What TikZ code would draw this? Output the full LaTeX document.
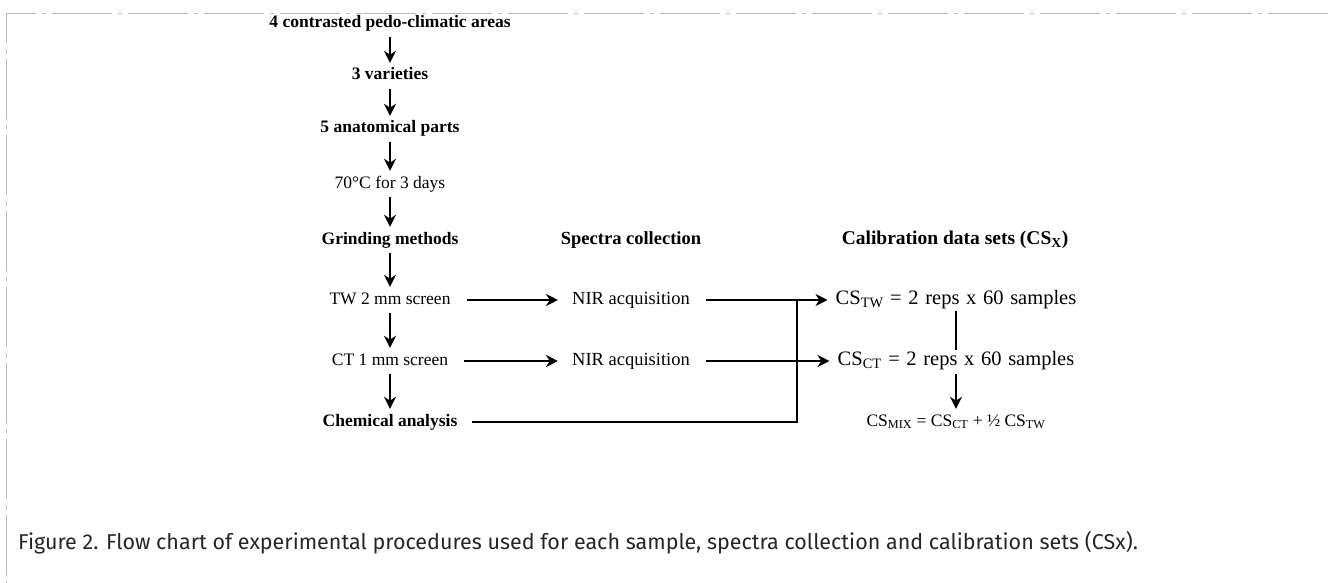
\documentclass[tikz,border=0pt]{standalone}
\usepackage{fontspec}
\setmainfont{Liberation Serif}
\newfontfamily\capfont{Fira Sans}
\newfontfamily\widefont[WordSpace=1.3]{Liberation Serif}
\usetikzlibrary{arrows.meta}

\begin{document}
\begin{tikzpicture}
  [x=1pt,y=-1pt,
   every node/.style={inner sep=0pt,text height=12pt,text depth=4pt,
     font=\fontsize{17.5}{20}\selectfont},
   hd/.style={font=\fontsize{17.5}{20}\selectfont\bfseries},
   mid/.style={font=\fontsize{18.5}{21}\selectfont},
   wide/.style={font=\widefont\fontsize{20.5}{23}\selectfont},
   link/.style={line width=2.8pt,-{Stealth[length=12pt,width=12pt]}},
   bar/.style={line width=2.8pt}]
  \useasboundingbox (0,0) rectangle (1328,583);
  \draw[gray!55,line width=0.8pt,dash pattern=on 60pt off 6pt on 4pt off 6pt]
    (1328,13) -- (6,13) -- (6,583);

  % sample preparation
  \node[hd] (n1) at (390,24)  {4 contrasted pedo-climatic areas};
  \node[hd] (n2) at (390,76)  {3 varieties};
  \node[hd] (n3) at (390,129) {5 anatomical parts};
  \node     (n4) at (390,184) {70°C for 3 days};
  \node[hd] (n5) at (390,240) {Grinding methods};
  \node     (n6) at (390,300) {TW 2 mm screen};
  \node     (n7) at (390,361) {CT 1 mm screen};
  \node[hd] (n8) at (390,422) {Chemical analysis};

  % spectra
  \node[font=\fontsize{18.5}{21}\selectfont\bfseries] (s0) at (631,240) {Spectra collection};
  \node[mid] (s1) at (631,300) {NIR acquisition};
  \node[mid] (s2) at (631,361) {NIR acquisition};

  % calibration sets
  \node[font=\fontsize{19.5}{22}\selectfont\bfseries] (c0) at (955,240) {Calibration data sets (CS\textsubscript{X})};
  \node[wide] (c1) at (956,300) {CS\textsubscript{TW} = 2 reps x 60 samples};
  \node[wide] (c2) at (956,361) {CS\textsubscript{CT} = 2 reps x 60 samples};
  \node      (c3) at (956,422) {CS\textsubscript{MIX} = CS\textsubscript{CT} + ½ CS\textsubscript{TW}};
  \coordinate (jt) at (797,300);

  \foreach \from/\to in {n1/n2,n2/n3,n3/n4,n4/n5,n5/n6,n6/n7,n7/n8}
    \draw [link,shorten <=5pt,shorten >=5pt] (\from) -- (\to);
  \foreach \from/\to in {n6/s1,n7/s2}
    \draw [link,shorten <=16pt,shorten >=14pt] (\from) -- (\to);
  \foreach \from/\to in {s1/c1,s2/c2}
    \draw [link,shorten <=16pt,shorten >=8pt] (\from) -- (\to);
  \draw [bar,shorten <=14pt] (n8) -| (jt);
  \draw [bar,shorten <=3pt,shorten >=3pt] (c1.south) -- (c2.north);
  \draw [link,shorten <=5pt,shorten >=5pt] (c2.south) -- (c3.north);

  \node[font=\capfont\fontsize{21.5}{24}\selectfont,anchor=west,text=black!85]
    (cap) at (18,545) {Figure 2. Flow chart of experimental procedures used for each sample, spectra collection and calibration sets (CSx).};
\end{tikzpicture}
\end{document}
